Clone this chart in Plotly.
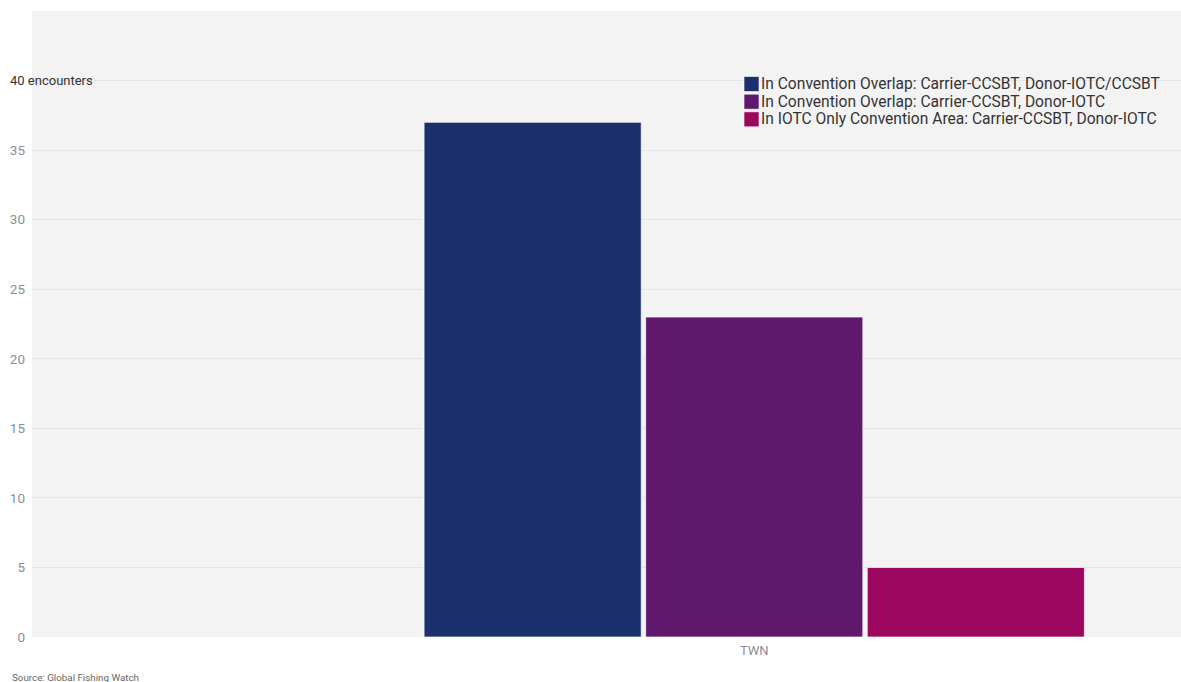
import plotly.graph_objects as go

categories = ["TWN"]
series_names = [
    "In Convention Overlap: Carrier-CCSBT, Donor-IOTC/CCSBT",
    "In Convention Overlap: Carrier-CCSBT, Donor-IOTC",
    "In IOTC Only Convention Area: Carrier-CCSBT, Donor-IOTC",
]
series_values = [[37], [23], [5]]
colors = ["#1a2f6b", "#5f186b", "#9c065f"]
y_tickvals = [0, 5, 10, 15, 20, 25, 30, 35, 40, 45]
y_ticktext = ["0", "5", "10", "15", "20", "25", "30", "35", "", ""]
unit_label = "40 encounters"
source_text = "Source: Global Fishing Watch"

W, H = 1181, 682
ML, MR, MT, MB = 32, 0, 11, 45
PW, PH = W - ML - MR, H - MT - MB


def px_x(x):
    return (x - ML) / PW


def px_y(y):
    return (H - MB - y) / PH


fig = go.Figure()
for name, vals, col in zip(series_names, series_values, colors):
    fig.add_trace(go.Bar(
        x=categories, y=vals, name=name,
        marker=dict(color=col, line=dict(color="rgba(255,255,255,0.7)", width=1)),
        showlegend=False,
    ))

annotations = []
shapes = []
# custom legend
leg_rows = [84, 101.7, 119.3]
for name, col, yc in zip(series_names, colors, leg_rows):
    shapes.append(dict(type="rect", xref="paper", yref="paper",
                       x0=px_x(744), x1=px_x(759), y0=px_y(yc + 7.5), y1=px_y(yc - 7.5),
                       fillcolor=col, line=dict(color="rgba(255,255,255,0.6)", width=1)))
    annotations.append(dict(text=name, xref="paper", yref="paper", x=px_x(759), y=px_y(yc),
                            xanchor="left", yanchor="middle", showarrow=False,
                            font=dict(family="Roboto", size=15.6, color="#333333")))

annotations.append(dict(text=unit_label, xref="paper", yref="y", x=px_x(8), y=40,
                        xanchor="left", yanchor="middle", showarrow=False,
                        font=dict(family="Roboto", size=13, color="#333333")))
annotations.append(dict(text=source_text, xref="paper", yref="paper", x=px_x(10), y=px_y(677),
                        xanchor="left", yanchor="middle", showarrow=False,
                        font=dict(family="Roboto", size=9.8, color="#666666")))

fig.update_layout(
    width=W, height=H,
    margin=dict(l=ML, r=MR, t=MT, b=MB),
    paper_bgcolor="white",
    plot_bgcolor="#f3f3f3",
    barmode="group",
    bargap=0,
    bargroupgap=0.02,
    font=dict(family="Roboto"),
    xaxis=dict(type="category", range=[-1.0865, 0.642], showgrid=False, zeroline=False,
               showline=False, ticks="", ticklabelstandoff=4,
               tickfont=dict(family="Roboto", size=13, color="#8a8f99"),
               fixedrange=True),
    yaxis=dict(range=[0, 45], tickvals=y_tickvals, ticktext=y_ticktext, showgrid=True,
               gridcolor="#e4e4ea", gridwidth=1, zeroline=False, showline=False, ticks="",
               ticklabelstandoff=6,
               tickfont=dict(family="Roboto", size=13.5, color="#8a8f99"), fixedrange=True),
    annotations=annotations,
    shapes=shapes,
    showlegend=False,
)

fig.write_html("out.html", config={"displayModeBar": False},
               post_script="document.body.style.margin='0';document.body.style.overflow='hidden';")
